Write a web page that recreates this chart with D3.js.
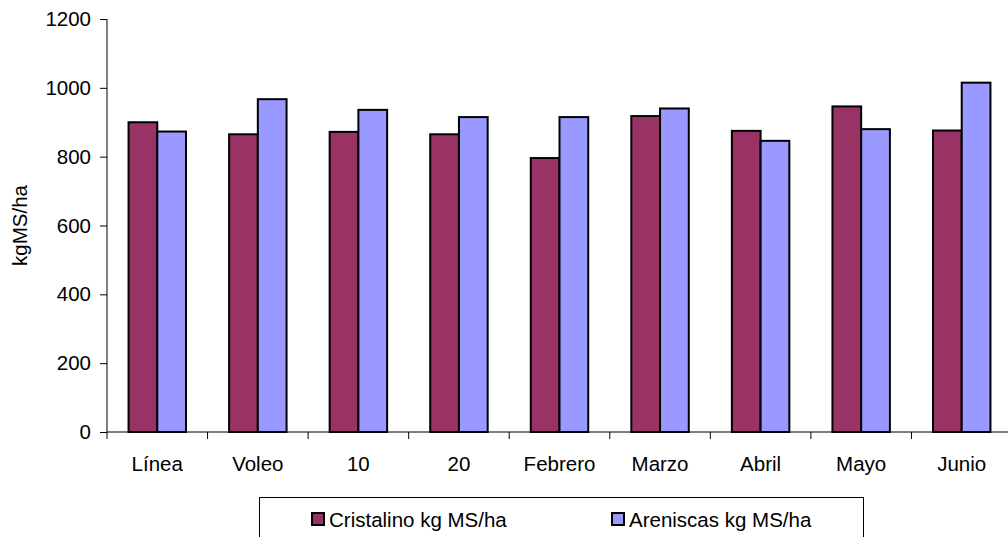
<!DOCTYPE html>
<html>
<head>
<meta charset="utf-8">
<script src="https://cdn.jsdelivr.net/npm/d3@7"></script>
<style>
  html, body { margin: 0; padding: 0; background: #fff; }
  svg { display: block; font-family: "Liberation Sans", Arial, sans-serif; }
</style>
</head>
<body>
<svg id="chart" width="1008" height="537"></svg>
<script>
// Forage yield by treatment, two soil types
const categories = ["Línea", "Voleo", "10", "20", "Febrero", "Marzo", "Abril", "Mayo", "Junio"];
const cristalino = [900, 865, 872, 865, 796, 918, 875, 946, 876];
const areniscas = [873, 967, 936, 915, 915, 940, 846, 880, 1015];
const seriesNames = ["Cristalino kg MS/ha", "Areniscas kg MS/ha"];
const seriesColors = ["#993366", "#9999FF"];
const yTicks = [0, 200, 400, 600, 800, 1000, 1200];
const yLabel = "kgMS/ha";

const FONT = 20.5;
const svg = d3.select("#chart");
const plot = { left: 107, right: 1012, top: 19, bottom: 432 };

const x = d3.scaleBand().domain(categories).range([plot.left, plot.right]).paddingInner(0).paddingOuter(0);
const y = d3.scaleLinear().domain([0, 1200]).range([plot.bottom, plot.top]);

// bars: each bar width = band / (2 bars + 1.5 gap)
const barW = x.bandwidth() / 3.5;
const offset = (x.bandwidth() - 2 * barW) / 2;
const series = [cristalino, areniscas];

const g = svg.append("g");
series.forEach((vals, si) => {
  g.selectAll(null)
    .data(vals)
    .enter().append("rect")
    .attr("x", (d, i) => x(categories[i]) + offset + si * barW)
    .attr("y", d => y(d))
    .attr("width", barW)
    .attr("height", d => y(0) - y(d))
    .attr("fill", seriesColors[si])
    .attr("stroke", "#000")
    .attr("stroke-width", 2);
});

// y axis
const yAxis = d3.axisLeft(y).tickValues(yTicks).tickSize(7).tickPadding(9).tickFormat(d3.format("d"));
const ya = svg.append("g").attr("transform", `translate(${plot.left},0)`).call(yAxis);
ya.select(".domain").attr("stroke", "#000").attr("d", `M0,${plot.top}V${plot.bottom}`);
ya.selectAll(".tick line").attr("stroke", "#000");
ya.selectAll("text").attr("font-size", FONT).attr("fill", "#000")
  .attr("font-family", "Liberation Sans, Arial, sans-serif");

// x axis with ticks at category boundaries
const xa = svg.append("g").attr("transform", `translate(0,${plot.bottom})`);
xa.append("line").attr("x1", plot.left).attr("x2", plot.right).attr("y1", 0).attr("y2", 0).attr("stroke", "#000");
const bounds = categories.map(c => x(c)).concat([plot.right]);
xa.selectAll(".bt").data(bounds).enter().append("line")
  .attr("x1", d => d).attr("x2", d => d).attr("y1", 0).attr("y2", 7).attr("stroke", "#000");
xa.selectAll(".lbl").data(categories).enter().append("text")
  .attr("x", d => x(d) + x.bandwidth() / 2)
  .attr("y", 39)
  .attr("text-anchor", "middle")
  .attr("font-size", FONT)
  .attr("fill", "#000")
  .text(d => d);

// y axis title
svg.append("text")
  .attr("transform", `translate(27,${(plot.top + plot.bottom) / 2}) rotate(-90)`)
  .attr("text-anchor", "middle")
  .attr("font-size", FONT)
  .attr("fill", "#000")
  .text(yLabel);

// legend
const lg = svg.append("g");
lg.append("rect").attr("x", 259.5).attr("y", 497.5).attr("width", 604).attr("height", 60)
  .attr("fill", "#fff").attr("stroke", "#000").attr("stroke-width", 1);
const legendX = [312, 612];
seriesNames.forEach((name, i) => {
  lg.append("rect").attr("x", legendX[i]).attr("y", 513).attr("width", 12).attr("height", 12)
    .attr("fill", seriesColors[i]).attr("stroke", "#000").attr("stroke-width", 2);
  lg.append("text").attr("x", legendX[i] + 17).attr("y", 527)
    .attr("font-size", FONT).attr("fill", "#000").text(name);
});
</script>
</body>
</html>
